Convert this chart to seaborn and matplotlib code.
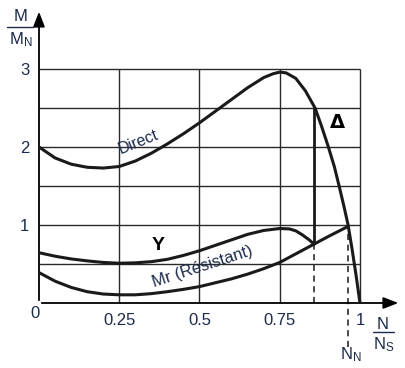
import numpy as np
import pandas as pd
import matplotlib
matplotlib.use("Agg")
import matplotlib.pyplot as plt
import seaborn as sns

# ---- data ----
direct_x = [0, 0.05, 0.1, 0.15, 0.2, 0.25, 0.3, 0.35, 0.4, 0.45, 0.5, 0.55, 0.6, 0.65,
            0.7, 0.73, 0.75, 0.77, 0.8, 0.83, 0.86, 0.88, 0.9, 0.92, 0.935, 0.95, 0.963,
            0.975, 0.988, 1.0]
direct_y = [2.0, 1.86, 1.78, 1.74, 1.73, 1.75, 1.82, 1.92, 2.04, 2.17, 2.31, 2.46, 2.61, 2.76,
            2.89, 2.94, 2.96, 2.95, 2.88, 2.72, 2.50, 2.27, 2.02, 1.75, 1.5, 1.24, 1.0,
            0.7, 0.35, 0.0]

star_x = [0, 0.05, 0.1, 0.15, 0.2, 0.25, 0.3, 0.35, 0.4, 0.45, 0.5, 0.55, 0.6, 0.65, 0.7,
          0.75, 0.78, 0.8, 0.82, 0.84, 0.857]
star_y = [0.645, 0.6, 0.565, 0.54, 0.52, 0.51, 0.515, 0.53, 0.56, 0.61, 0.67, 0.74, 0.81,
          0.88, 0.93, 0.955, 0.95, 0.925, 0.875, 0.815, 0.755]

mr_x = [0, 0.05, 0.1, 0.15, 0.2, 0.25, 0.3, 0.35, 0.4, 0.45, 0.5, 0.55, 0.6, 0.65, 0.7,
        0.75, 0.8, 0.857, 0.9, 0.962]
mr_y = [0.39, 0.28, 0.2, 0.145, 0.115, 0.105, 0.105, 0.12, 0.145, 0.175, 0.21, 0.26, 0.31,
        0.37, 0.44, 0.52, 0.63, 0.755, 0.85, 0.98]

switch_x = 0.857          # star -> delta switching speed
switch_y = [0.755, 2.5]
nominal_x = 0.962         # nominal speed N_N
nominal_y = 0.98

x_ticks = [0.25, 0.5, 0.75, 1]
x_tick_labels = ["0.25", "0.5", "0.75", "1"]
y_ticks = [1, 2, 3]
y_tick_labels = ["1", "2", "3"]
grid_x = [0.25, 0.5, 0.75, 1.0]
grid_y = [0.5, 1.0, 1.5, 2.0, 2.5, 3.0]

# ---- style ----
sns.set_style("white")
plt.rcParams["font.family"] = ["Liberation Sans", "DejaVu Sans"]
plt.rcParams["mathtext.fontset"] = "custom"
plt.rcParams["mathtext.rm"] = "Liberation Sans"
plt.rcParams["mathtext.it"] = "Liberation Sans"

TXT = "#1c2a4c"
LINE = "#1a1a1a"
GRID = "#2a2a2a"

fig = plt.figure(figsize=(4.06, 3.68), dpi=100)
ax = fig.add_axes([39 / 406, 65 / 368, (398.5 - 39) / 406, 292.5 / 368])
ax.set_xlim(0, 1.12)
ax.set_ylim(0, 3.75)
for s in ax.spines.values():
    s.set_visible(False)

# grid
ax.vlines(grid_x, 0, 3.0, color=GRID, lw=1.0, zorder=1)
ax.hlines(grid_y, 0, 1.0, color=GRID, lw=1.0, zorder=1)

# axes with arrows
ax.annotate("", xy=(0, 3.77), xytext=(0, 0),
            arrowprops=dict(arrowstyle="-|>,head_length=0.9,head_width=0.35", color="black", lw=1.3),
            annotation_clip=False)
ax.annotate("", xy=(1.128, 0), xytext=(0, 0),
            arrowprops=dict(arrowstyle="-|>,head_length=0.9,head_width=0.35", color="black", lw=1.3),
            annotation_clip=False)

# curves
df_d = pd.DataFrame({"x": direct_x, "y": direct_y})
df_s = pd.DataFrame({"x": star_x, "y": star_y})
df_m = pd.DataFrame({"x": mr_x, "y": mr_y})
for df in (df_d, df_s, df_m):
    sns.lineplot(data=df, x="x", y="y", ax=ax, color=LINE, lw=2.2, sort=False,
                 estimator=None, zorder=3)

ax.vlines(switch_x, switch_y[0], switch_y[1], color=LINE, lw=2.0, zorder=3)
ax.vlines(switch_x, 0, switch_y[0], color=LINE, lw=1.1, linestyles=(0, (4, 3)), zorder=2)
ax.vlines(nominal_x, -0.56, nominal_y, color=LINE, lw=1.1, linestyles=(0, (4, 3)),
          zorder=2, clip_on=False)

# ticks
ax.set_xticks(x_ticks)
ax.set_xticklabels(x_tick_labels)
ax.set_yticks(y_ticks)
ax.set_yticklabels(y_tick_labels)
ax.tick_params(axis="both", length=0, labelsize=12, labelcolor=TXT)
ax.tick_params(axis="y", pad=7)
ax.tick_params(axis="x", pad=7)
ax.set_xlabel("")
ax.set_ylabel("")
ax.text(-0.012, -0.13, "0", ha="center", va="center", fontsize=12, color=TXT, clip_on=False)

# axis labels as fractions
ax.text(-0.058, 3.67, "M", ha="center", va="center", fontsize=12, color=TXT, clip_on=False)
ax.plot([-0.1, -0.018], [3.54, 3.54], color=TXT, lw=1.0, clip_on=False)
ax.text(-0.058, 3.37, r"M$_{\mathrm{N}}$", ha="center", va="center", fontsize=12, color=TXT,
        clip_on=False)

ax.text(1.072, -0.27, "N", ha="center", va="center", fontsize=12, color=TXT, clip_on=False)
ax.plot([1.04, 1.105], [-0.37, -0.37], color=TXT, lw=1.0, clip_on=False)
ax.text(1.075, -0.54, r"N$_{\mathrm{S}}$", ha="center", va="center", fontsize=12, color=TXT,
        clip_on=False)
ax.text(0.97, -0.66, r"N$_{\mathrm{N}}$", ha="center", va="center", fontsize=12, color=TXT,
        clip_on=False)

# curve labels
ax.text(0.31, 2.07, "Direct", ha="center", va="center", fontsize=11.5, color=TXT, rotation=22)
ax.text(0.37, 0.74, "Y", ha="center", va="center", fontsize=14, color="black",
        fontweight="bold")
ax.text(0.51, 0.47, "Mr (Résistant)", ha="center", va="center", fontsize=12, color=TXT,
        rotation=18)
ax.text(0.93, 2.31, "Δ", ha="center", va="center", fontsize=14, color="black",
        fontweight="bold", family=["DejaVu Sans"])

fig.savefig("out.png", dpi=100)
